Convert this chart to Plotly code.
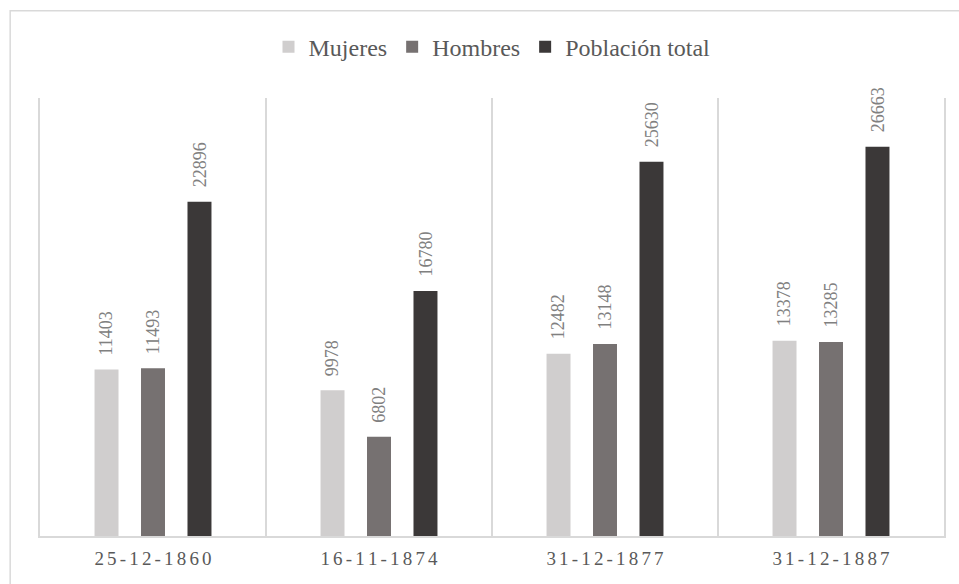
import plotly.graph_objects as go

# Census dates and population counts
fechas = ["25-12-1860", "16-11-1874", "31-12-1877", "31-12-1887"]
mujeres = [11403, 9978, 12482, 13378]
hombres = [11493, 6802, 13148, 13285]
poblacion_total = [22896, 16780, 25630, 26663]

# Spaced-out tick labels for the date axis (six-per-em spaces between characters)
etiquetas = ["\u2006".join(f) for f in fechas]

series = [
    ("Mujeres", mujeres, "#d0cece", -47),
    ("Hombres", hombres, "#767171", 0),
    ("Población total", poblacion_total, "#3b3838", 47),
]

FONT = "Liberation Serif"

fig = go.Figure()
annotations = []
for nombre, valores, color, dx in series:
    fig.add_trace(go.Bar(
        name=nombre, x=fechas, y=valores,
        marker=dict(color=color, line=dict(width=0)),
    ))
    for f, v in zip(fechas, valores):
        annotations.append(dict(
            x=f, y=v, xref="x", yref="y", text=str(v),
            showarrow=False, textangle=-90,
            xanchor="center", yanchor="bottom",
            xshift=dx, yshift=12,
            font=dict(family=FONT, size=18, color="#808080"),
        ))

fig.update_layout(
    width=959, height=584,
    margin=dict(l=40, r=15, t=98, b=48),
    paper_bgcolor="white", plot_bgcolor="white",
    barmode="group", bargap=0.383, bargroupgap=0.484,
    font=dict(family=FONT, color="#595959"),
    legend=dict(
        orientation="h", x=0.5, y=1.116, xanchor="center", yanchor="middle",
        font=dict(family=FONT, size=24, color="#595959"),
        itemwidth=30, traceorder="normal",
    ),
    xaxis=dict(
        type="category", tickmode="array", tickvals=fechas, ticktext=etiquetas,
        tickson="boundaries", showgrid=True, gridcolor="#d9d9d9", gridwidth=1.5,
        showline=True, linecolor="#d9d9d9", linewidth=1.5,
        ticks="", ticklabelstandoff=4,
        tickfont=dict(family=FONT, size=19, color="#595959"),
        range=[-0.5, 3.5],
    ),
    yaxis=dict(
        range=[0, 30000], showgrid=False, zeroline=False,
        showticklabels=False, ticks="",
        showline=True, mirror=True, linecolor="#d9d9d9", linewidth=1.5,
    ),
    annotations=annotations,
    shapes=[dict(
        type="rect", xref="paper", yref="paper",
        x0=-0.033, x1=1.2, y0=-0.3, y1=1.199,
        line=dict(color="#d9d9d9", width=1.5), layer="below",
    )],
)

fig.write_html("out.html")
